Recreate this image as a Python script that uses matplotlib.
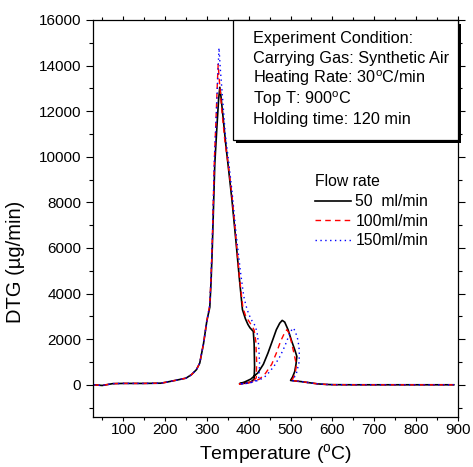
import matplotlib
matplotlib.use("Agg")
import matplotlib.pyplot as plt
from matplotlib.patches import Rectangle
from matplotlib.ticker import MultipleLocator

plt.rcParams['font.family'] = ['Liberation Sans', 'DejaVu Sans']
plt.rcParams['mathtext.fontset'] = 'custom'
plt.rcParams['mathtext.rm'] = 'Liberation Sans'
plt.rcParams['mathtext.it'] = 'Liberation Sans:italic'

# DTG curves (temperature in degC, DTG in ug/min) for three carrier gas flow rates
temp_50 = [30, 50, 75, 100, 150, 190, 205, 228, 250, 263, 275, 283, 292, 300, 307, 310, 313,
           319, 324, 328, 331, 334, 340, 346, 351, 360, 370, 378, 385, 392, 398, 403, 408,
           411, 413, 414, 413, 405, 392, 378, 390, 405, 422, 435, 446, 456, 466, 474, 480,
           486, 494, 502, 510, 515, 513, 510, 505, 500, 510, 525, 545, 565, 585, 600, 650,
           700, 750, 800, 850, 890]
dtg_50 = [0, -30, 50, 60, 60, 70, 120, 205, 290, 440, 660, 950, 1800, 2800, 3400, 4500, 6000,
          9700, 11300, 12500, 13050, 12600, 11500, 10400, 9600, 8100, 6200, 4600, 3300, 2900,
          2650, 2500, 2400, 2340, 1800, 800, 250, 120, 70, 50, 120, 250, 526, 900, 1391, 1900,
          2415, 2700, 2825, 2750, 2415, 1950, 1537, 1245, 900, 586, 350, 190, 170, 140, 90,
          40, 15, 5, 0, 0, 0, 0, 0, 0]

temp_100 = [30, 50, 75, 100, 150, 190, 205, 228, 250, 263, 275, 283, 292, 300, 307, 310, 313,
            318, 322, 325, 327, 330, 336, 343, 350, 360, 370, 378, 386, 393, 400, 407, 413,
            417, 419, 418, 408, 392, 378, 395, 412, 426, 440, 455, 466, 476, 485, 491, 497,
            503, 509, 514, 511, 505, 500, 510, 525, 545, 565, 585, 600, 650, 700, 750, 800,
            850, 890]
dtg_100 = [0, -30, 50, 60, 60, 70, 120, 205, 290, 440, 660, 950, 1800, 2800, 3500, 4700, 6300,
           9900, 11700, 13200, 14050, 13300, 12000, 10700, 9800, 8300, 6300, 4700, 3400, 3000,
           2800, 2600, 2400, 1900, 1000, 300, 120, 60, 30, 80, 150, 250, 500, 900, 1390, 1900,
           2250, 2415, 2250, 1800, 1300, 880, 500, 250, 190, 170, 140, 90, 40, 15, 5, 0, 0,
           0, 0, 0, 0]

temp_150 = [30, 50, 75, 100, 150, 190, 205, 228, 250, 263, 275, 283, 292, 300, 307, 310, 313,
            318, 323, 327, 329, 332, 337, 344, 352, 360, 370, 380, 388, 393, 400, 408, 415,
            420, 424, 426, 424, 412, 395, 378, 400, 425, 442, 460, 475, 486, 496, 503, 507,
            512, 517, 520, 521, 520, 514, 506, 505, 515, 530, 545, 565, 585, 600, 650, 700,
            750, 800, 850, 890]
dtg_150 = [0, -30, 50, 60, 60, 70, 120, 205, 290, 440, 660, 950, 1800, 2800, 3500, 4700, 6300,
           9800, 12000, 13900, 14780, 13900, 12700, 11000, 9800, 8500, 6600, 5000, 3900, 3500,
           3100, 2800, 2600, 2300, 1700, 900, 300, 120, 60, 30, 80, 200, 400, 800, 1250, 1683,
           2150, 2420, 2489, 2300, 2000, 1683, 1300, 963, 500, 220, 180, 160, 130, 90, 40, 15,
           5, 0, 0, 0, 0, 0, 0]

series_labels = ["50  ml/min", "100ml/min", "150ml/min"]
info_lines = [
    "Experiment Condition:",
    "Carrying Gas: Synthetic Air",
    r"Heating Rate: 30$^{\mathrm{o}}$C/min",
    r"Top T: 900$^{\mathrm{o}}$C",
    "Holding time: 120 min",
]

fig = plt.figure(figsize=(4.73, 4.67), dpi=100)
ax = fig.add_axes([0.1966, 0.1077, 0.7717, 0.8495])

ax.plot(temp_50, dtg_50, color='black', lw=1.2, ls='-', label=series_labels[0])
ax.plot(temp_100, dtg_100, color='red', lw=1.0, ls=(0, (4, 3)), label=series_labels[1])
ax.plot(temp_150, dtg_150, color='blue', lw=1.0, ls=(0, (1, 2.5)), label=series_labels[2])

ax.set_xlim(28, 900)
ax.set_ylim(-1400, 16000)
ax.xaxis.set_major_locator(MultipleLocator(100))
ax.xaxis.set_minor_locator(MultipleLocator(50))
ax.yaxis.set_major_locator(MultipleLocator(2000))
ax.yaxis.set_minor_locator(MultipleLocator(1000))
ax.tick_params(which='both', direction='out', top=True, right=True, labelsize=11, width=0.8)
ax.tick_params(axis='y', which='major', length=5, pad=3.5)
ax.tick_params(axis='y', which='minor', length=3)
ax.tick_params(axis='x', which='major', length=3, pad=1.5)
ax.tick_params(axis='x', which='minor', length=2)
for s in ax.spines.values():
    s.set_linewidth(0.9)

ax.set_xlabel("Temperature ($^{\\mathrm{o}}$C)", fontsize=14, va='center')
ax.set_ylabel("DTG (\u00b5g/min)", fontsize=14.5)
ax.xaxis.set_label_coords(0.5, -0.094)
ax.yaxis.set_label_coords(-0.186, 0.39)

# information box with drop shadow in the upper right corner
bx0, by0 = 0.384, 0.698
ax.add_patch(Rectangle((bx0 + 0.009, by0 - 0.009), 1 - bx0, 1 - by0, transform=ax.transAxes,
                       facecolor='black', edgecolor='none', clip_on=False, zorder=5))
ax.add_patch(Rectangle((bx0, by0), 1 - bx0, 1 - by0, transform=ax.transAxes,
                       facecolor='white', edgecolor='black', lw=0.9, clip_on=False, zorder=6))
for i, line in enumerate(info_lines):
    ax.text(0.4375, 0.943 - i * 0.0515, line, transform=ax.transAxes, fontsize=11.7,
            ha='left', va='baseline', zorder=7)

leg = ax.legend(title="Flow rate", loc='upper left', bbox_to_anchor=(0.607, 0.612),
                frameon=False, fontsize=11.3, title_fontsize=11.3, handlelength=2.3,
                handletextpad=0.3, labelspacing=0.28, borderpad=0, borderaxespad=0,
                alignment='left')
leg._legend_box.sep = 4

fig.savefig("out.png", dpi=100)
